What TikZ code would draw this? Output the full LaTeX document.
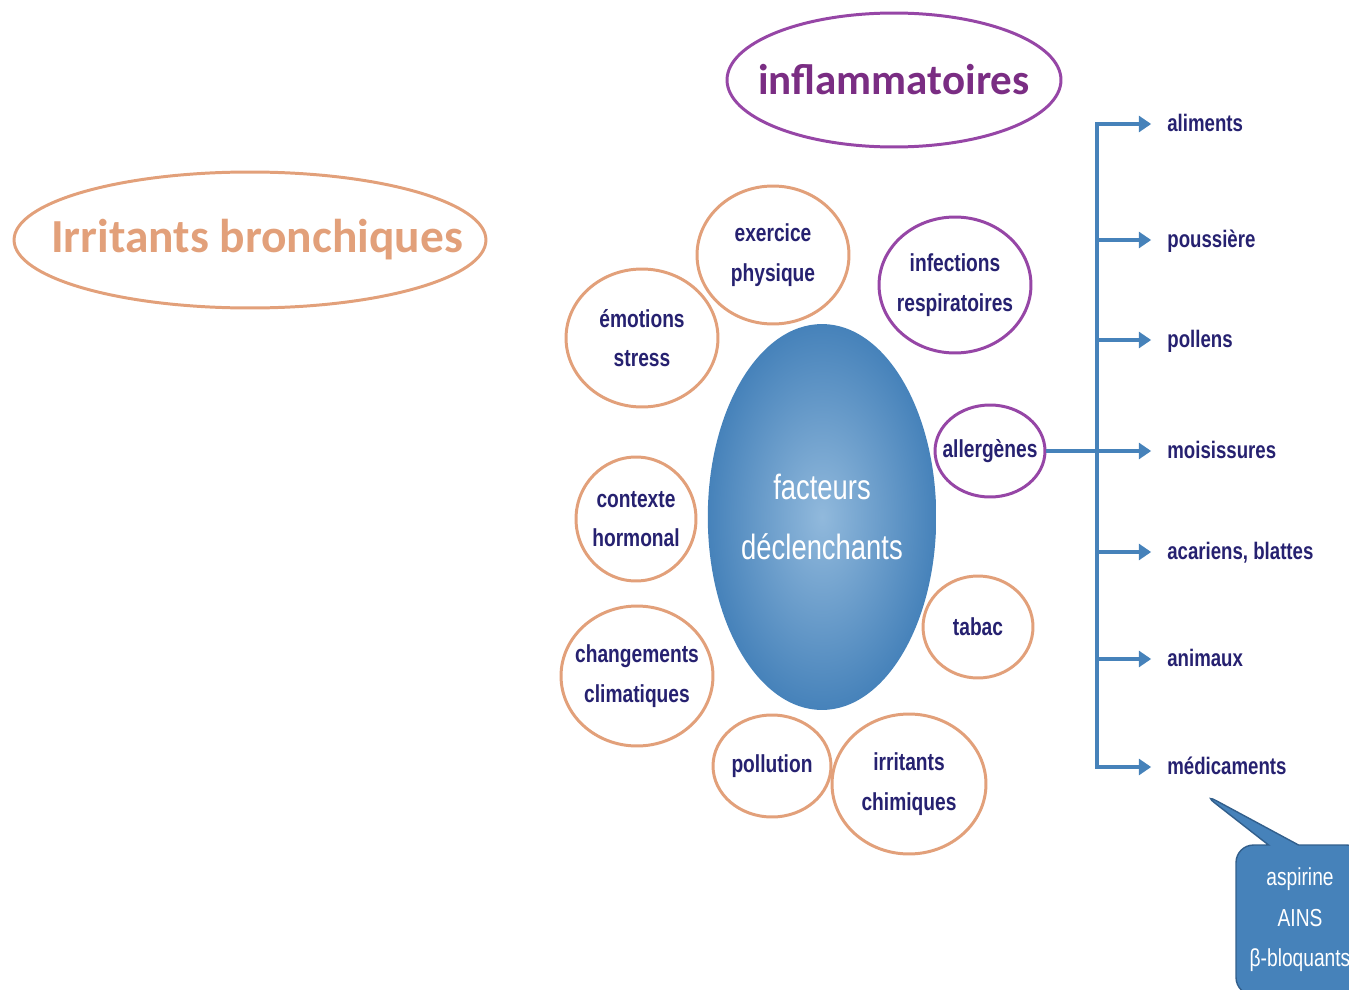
\documentclass[tikz,border=0pt]{standalone}
\usepackage{fontspec}
\usetikzlibrary{shapes.geometric,shapes.callouts,arrows.meta}
\newfontfamily\titlefont{Carlito}
\newfontfamily\lblfont{Liberation Sans}[FakeStretch=0.78]
\definecolor{peach}{RGB}{226,160,122}
\definecolor{plum}{RGB}{150,70,166}
\definecolor{plumtext}{RGB}{122,45,131}
\definecolor{navy}{RGB}{38,33,112}
\definecolor{steel}{RGB}{70,130,186}
\definecolor{steellight}{RGB}{145,185,220}
\definecolor{steeldark}{RGB}{50,95,140}
\begin{document}
\begin{tikzpicture}[x=0.02cm,y=0.02cm]
\tikzstyle{every node}+=[inner sep=0pt]
\tikzstyle{bub}=[ellipse,line width=1.7pt,fill=white,inner sep=-10pt,align=center,text=navy,font=\lblfont\bfseries\fontsize{14}{22.5}\selectfont]
\tikzstyle{peachbub}=[bub,draw=peach]
\tikzstyle{plumbub}=[bub,draw=plum]
\tikzstyle{title}=[ellipse,line width=1.7pt,inner xsep=-30pt]
\tikzstyle{leaf}=[anchor=west,text=navy,text height=11pt,text depth=3pt,font=\lblfont\bfseries\fontsize{13.6}{17}\selectfont]
\tikzstyle{branch}=[draw=steel,line width=2.3pt,shorten >=9pt,-{Triangle[length=7pt,width=9pt]}]
\useasboundingbox (0,0) rectangle (1349,-990);
\node [title,draw=peach,text=peach,minimum width=9.44cm,minimum height=2.72cm,font=\titlefont\bfseries\fontsize{27}{32}\selectfont] (irrit) at (250,-240) {\hspace{8pt}Irritants bronchiques};
\node [title,draw=plum,text=plumtext,minimum width=6.68cm,minimum height=2.68cm,font=\titlefont\bfseries\fontsize{24.5}{29}\selectfont] (infl) at (894,-80) {inflammatoires};
\node [ellipse,minimum width=4.44cm,minimum height=7.72cm,shading=radial,inner color=steellight,outer color=steel,align=center,text=white,font=\lblfont\fontsize{20}{34}\selectfont] (centre) at (822,-517) {facteurs\\déclenchants};
\node [peachbub,minimum width=3.04cm,minimum height=2.76cm] (exer) at (773,-255) {exercice\\physique};
\node [peachbub,minimum width=3.04cm,minimum height=2.76cm] (emo) at (642,-338) {émotions\\stress};
\node [plumbub,minimum width=3.04cm,minimum height=2.72cm] (infect) at (955,-285) {infections\\respiratoires};
\node [plumbub,minimum width=2.2cm,minimum height=1.84cm] (allerg) at (990,-451) {allergènes};
\node [peachbub,minimum width=2.4cm,minimum height=2.48cm] (horm) at (636,-519) {contexte\\hormonal};
\node [peachbub,minimum width=3.04cm,minimum height=2.8cm] (clim) at (637,-676) {changements\\climatiques};
\node [peachbub,minimum width=2.2cm,minimum height=2.04cm] (tabac) at (978,-627) {tabac};
\node [peachbub,minimum width=2.36cm,minimum height=2.04cm] (pollu) at (772,-766) {pollution};
\node [peachbub,minimum width=3.08cm,minimum height=2.8cm] (chim) at (909,-784) {irritants\\chimiques};
\node [leaf] (alim) at (1167,-124) {aliments};
\node [leaf] (pous) at (1167,-240) {poussière};
\node [leaf] (poll) at (1167,-340) {pollens};
\node [leaf] (mois) at (1167,-451) {moisissures};
\node [leaf] (acar) at (1167,-552) {acariens, blattes};
\node [leaf] (anim) at (1167,-659) {animaux};
\node [leaf] (medic) at (1167,-767) {médicaments};
\coordinate (junction) at (1097,-451);
\draw [branch] (allerg.east) -- (mois.west);
\draw [branch] (junction) |- (alim.west);
\draw [branch] (junction) |- (pous.west);
\draw [branch] (junction) |- (poll.west);
\draw [branch] (junction) |- (acar.west);
\draw [branch] (junction) |- (anim.west);
\draw [branch] (junction) |- (medic.west);
\coordinate (tip) at (1202,-793);
\node [rectangle callout,fill=steel,draw=steeldark,line width=0.8pt,rounded corners=10pt,minimum width=2.56cm,minimum height=3cm,callout absolute pointer=(tip),callout pointer width=0.6cm,align=center,text=white,font=\lblfont\fontsize{14}{23}\selectfont] (drugs) at (1300,-920) {aspirine\\AINS\\β-bloquants};
\end{tikzpicture}
\end{document}
